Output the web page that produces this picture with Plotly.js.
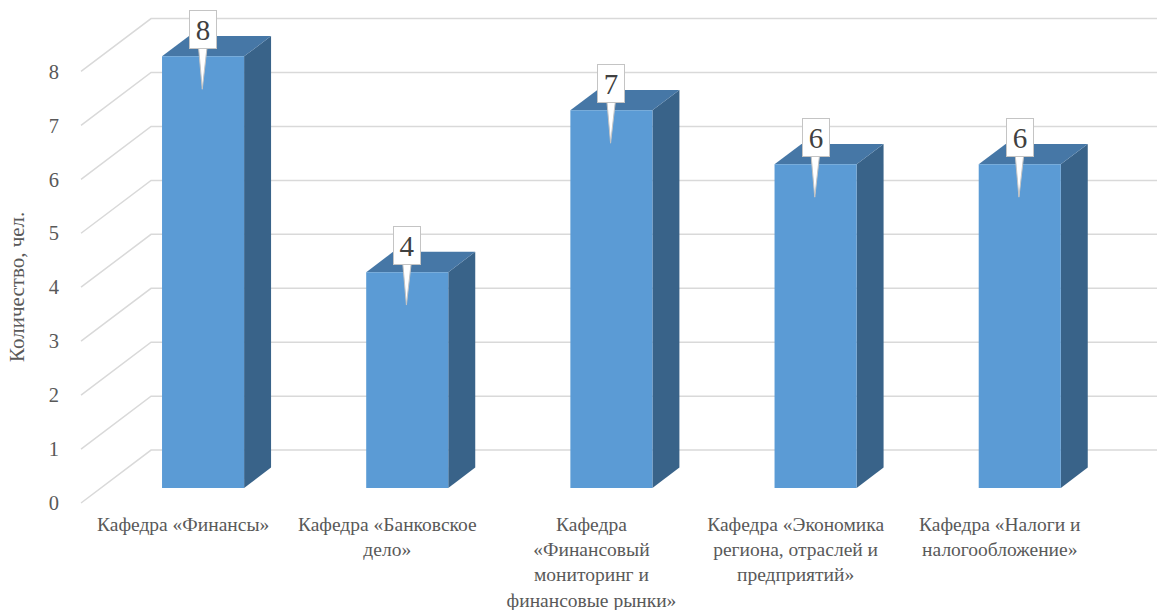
<!DOCTYPE html>
<html>
<head>
<meta charset="utf-8">
<script src="https://cdn.plot.ly/plotly-3.0.1.min.js"></script>
<style>html,body{margin:0;padding:0;background:#fff;}#chart{width:1157px;height:610px;}</style>
</head>
<body>
<div id="chart"></div>
<script>
// ---- data ----
const categories = [
  "Кафедра «Финансы»",
  "Кафедра «Банковское<br>дело»",
  "Кафедра<br>«Финансовый<br>мониторинг и<br>финансовые рынки»",
  "Кафедра «Экономика<br>региона, отраслей и<br>предприятий»",
  "Кафедра «Налоги и<br>налогообложение»"
];
const values = [8, 4, 7, 6, 6];
const yTicks = [0, 1, 2, 3, 4, 5, 6, 7, 8];
const yTitle = "Количество, чел.";

const SERIF = 'Liberation Serif';

// ---- 3D projection settings (in axis units) ----
const depthX = 0.343;   // full depth, x shift (category units)
const depthY = 0.98;    // full depth, y shift (value units)
const barFront = 0.285; // depth fraction of bar front face
const barDepth = 0.385; // depth fraction of bar thickness
const barWidth = 0.402;
const xMax = 5.27;

const fx = barFront * depthX, fy = barFront * depthY;
const sx = barDepth * depthX, sy = barDepth * depthY;

const traces = [];

// gridlines on back wall + diagonals on side wall
const gx = [], gy = [];
yTicks.forEach(v => {
  gx.push(0, depthX, xMax + 1, null);
  gy.push(v, v + depthY, v + depthY, null);
});
traces.push({x: gx, y: gy, mode: 'lines', line: {color: '#D9D9D9', width: 1.5}, hoverinfo: 'skip', showlegend: false});

const cFront = '#5B9BD5', cTop = '#4677A6', cSide = '#396389';

values.forEach((v, i) => {
  const c = i + 0.5 + fx;
  const xl = c - barWidth / 2, xr = c + barWidth / 2;
  const y0 = fy, y1 = v + fy;
  // side face
  traces.push({x: [xr, xr + sx, xr + sx, xr, xr], y: [y0, y0 + sy, y1 + sy, y1, y0],
    mode: 'lines', fill: 'toself', fillcolor: cSide, line: {width: 0, color: cSide}, hoverinfo: 'skip', showlegend: false});
  // top face
  traces.push({x: [xl, xr, xr + sx, xl + sx, xl], y: [y1, y1, y1 + sy, y1 + sy, y1],
    mode: 'lines', fill: 'toself', fillcolor: cTop, line: {width: 0, color: cTop}, hoverinfo: 'skip', showlegend: false});
  // front face
  traces.push({x: [xl, xr, xr, xl, xl], y: [y0, y0, y1, y1, y0],
    mode: 'lines', fill: 'toself', fillcolor: cFront, line: {width: 0, color: cFront}, hoverinfo: 'skip', showlegend: false});
  // callout pointer
  traces.push({x: [c - 0.024, c + 0.022, c - 0.004, c - 0.024], y: [y1 + 0.25, y1 + 0.25, y1 - 0.61, y1 + 0.25],
    mode: 'lines', fill: 'toself', fillcolor: '#FFFFFF', line: {width: 1, color: '#C4C4C4'}, hoverinfo: 'skip', showlegend: false});
});

const annotations = values.map((v, i) => ({
  x: i + 0.5 + fx, y: v + fy + 0.49, xref: 'x', yref: 'y',
  text: String(v), showarrow: false,
  font: {family: SERIF, size: 29, color: '#404040'},
  bgcolor: '#FFFFFF', bordercolor: '#C4C4C4', borderwidth: 1, borderpad: 0,
  width: 26, height: 37, xanchor: 'center', yanchor: 'middle'
}));
annotations.push({
  xref: 'paper', yref: 'paper', x: -0.058, y: 0.44, xanchor: 'center', yanchor: 'middle',
  text: yTitle, textangle: -90, showarrow: false,
  font: {family: SERIF, size: 21, color: '#595959'}
});

const layout = {
  width: 1157, height: 610,
  margin: {l: 80, r: 0, t: 3.5, b: 100},
  paper_bgcolor: '#FFFFFF', plot_bgcolor: '#FFFFFF',
  showlegend: false,
  font: {family: SERIF},
  xaxis: {
    range: [-0.005, xMax], tickmode: 'array', tickvals: categories.map((_, i) => i + 0.5), ticktext: categories,
    showgrid: false, zeroline: false, showline: false, ticks: '', fixedrange: true,
    tickfont: {family: SERIF, size: 19.5, color: '#595959'}
  },
  yaxis: {
    range: [-0.13, 9.25], tickmode: 'array', tickvals: yTicks,
    showgrid: false, zeroline: false, showline: false,
    ticks: 'outside', ticklen: 16, tickcolor: 'rgba(0,0,0,0)', fixedrange: true,
    tickfont: {family: SERIF, size: 20.5, color: '#595959'}
  },
  annotations: annotations
};

Plotly.newPlot('chart', traces, layout, {staticPlot: true, displayModeBar: false});
</script>
</body>
</html>
